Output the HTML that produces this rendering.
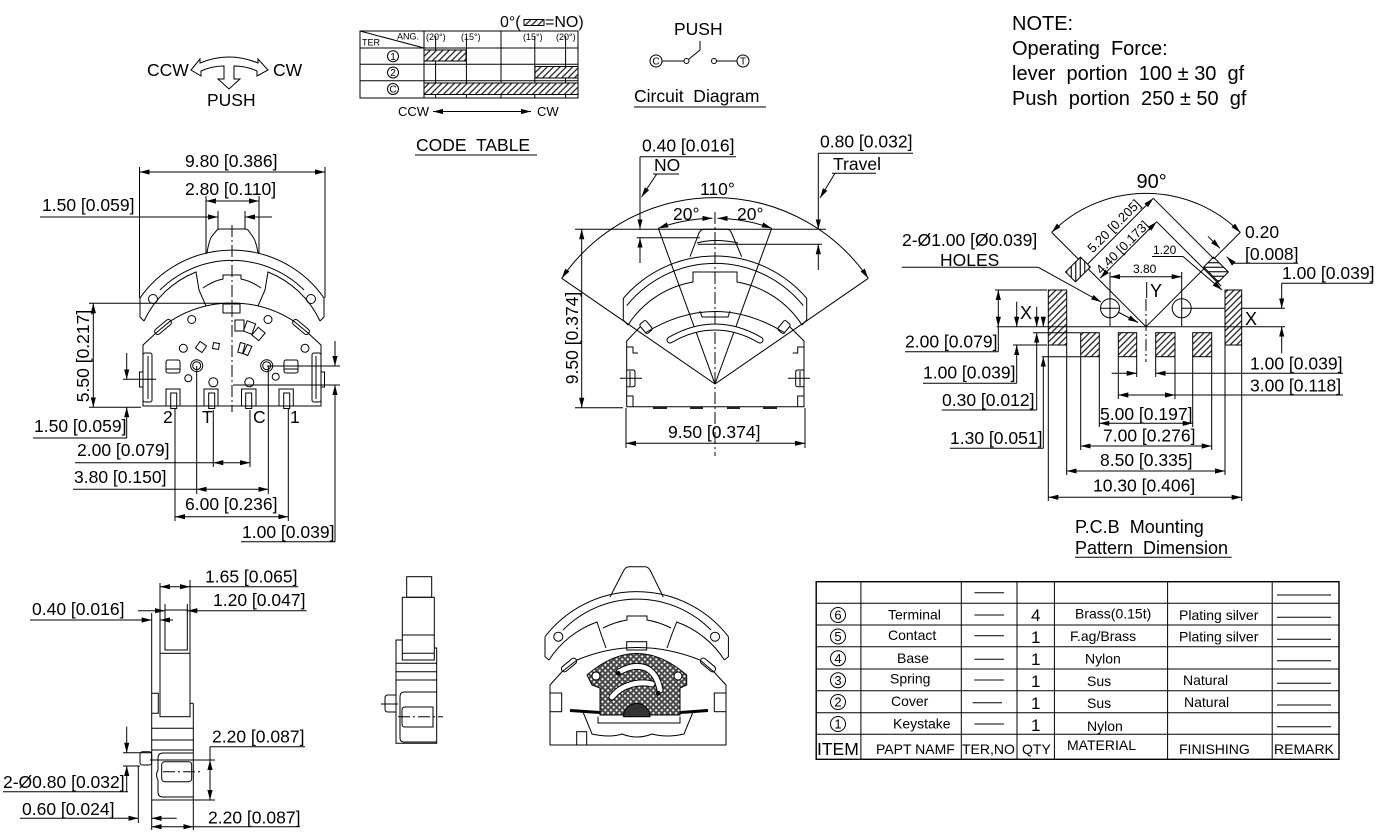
<!DOCTYPE html>
<html><head><meta charset="utf-8"><title>drawing</title>
<style>
html,body{margin:0;padding:0;background:#fff;}
svg{display:block;}
text{font-family:"Liberation Sans",Arial,sans-serif;font-size:17.5px;fill:#000;white-space:pre;}
.l line,.l path,.l rect,.l circle{stroke:#000;stroke-width:1;fill:none;}
.c{stroke-dasharray:12 3 2 3;}
.e{marker-end:url(#a);}
.b{marker-start:url(#a);marker-end:url(#a);}
.t9,.t9 text{font-size:9px;}
.t10,.t10 text{font-size:10px;}
.t12,.t12 text{font-size:12px;}
.t13,.t13 text{font-size:13px;}
.t14,.t14 text{font-size:14px;}
.t17,.t17 text{font-size:17px;}
.t18,.t18 text{font-size:18px;}
.t20,.t20 text{font-size:20px;}
</style></head><body>
<svg width="1385" height="834" viewBox="0 0 1385 834" xmlns="http://www.w3.org/2000/svg">
<defs>
<marker id="a" markerUnits="userSpaceOnUse" markerWidth="11" markerHeight="7" refX="10" refY="3.5" orient="auto-start-reverse"><path d="M0,0.9 L10,3.5 L0,6.1 Z" fill="#000"/></marker>
<pattern id="h" patternUnits="userSpaceOnUse" width="4.5" height="4.5" patternTransform="rotate(45)"><rect width="4.5" height="4.5" fill="#fff"/><line x1="2.25" y1="0" x2="2.25" y2="4.5" stroke="#000" stroke-width="1.1"/></pattern>
<pattern id="x" patternUnits="userSpaceOnUse" width="4" height="4" patternTransform="rotate(45)"><rect width="4" height="4" fill="#444"/><rect x="1.2" y="1.2" width="2" height="2" fill="#fff"/></pattern>
</defs>
<rect width="1385" height="834" fill="#fff"/>

<!-- ===== Top-left CCW/CW symbol ===== -->
<text x="147" y="76">CCW</text>
<text x="273" y="76">CW</text>
<text x="207" y="106">PUSH</text>
<g class="l"><path d="M200,63 Q229,51 258,63 L258,59 L268,70 L257,76 L257,71 Q246,66 234,66 L234,79 L240,79 L229,89 L218,79 L224,79 L224,66 Q212,66 201,71 L201,76 L191,70 L200,59 Z"/></g>

<!-- ===== Code table ===== -->
<text x="500" y="27" style="font-size:16px">0°(</text>
<rect x="524" y="19.5" width="20" height="6" style="fill:url(#h);stroke:#000;stroke-width:1"/>
<text x="545" y="27" style="font-size:16px">=NO)</text>
<g class="l">
<rect x="360" y="31" width="218" height="67"/>
<line x1="360" y1="48" x2="578" y2="48"/>
<line x1="360" y1="64.3" x2="578" y2="64.3"/>
<line x1="360" y1="80.7" x2="578" y2="80.7"/>
<line x1="424" y1="31" x2="424" y2="98"/>
<line x1="501" y1="31" x2="501" y2="98"/>
<line x1="435.6" y1="36" x2="435.6" y2="98"/>
<line x1="466.4" y1="36" x2="466.4" y2="98"/>
<line x1="534.8" y1="36" x2="534.8" y2="98"/>
<line x1="565.6" y1="36" x2="565.6" y2="98"/>
<line x1="360" y1="31" x2="424" y2="48"/>
<circle cx="393" cy="56.2" r="5.5"/>
<circle cx="393" cy="72.5" r="5.5"/>
<circle cx="393" cy="89" r="5.5"/>
<rect x="424" y="50" width="42" height="11" style="fill:url(#h)"/>
<rect x="535" y="66.5" width="43" height="11.5" style="fill:url(#h)"/>
<rect x="424" y="83" width="154" height="11.5" style="fill:url(#h)"/>
<line class="b" x1="433" y1="111.5" x2="531" y2="111.5"/>
<line x1="415" y1="155" x2="537" y2="155"/>
</g>
<text class="t9" x="362" y="45.5">TER</text>
<text class="t9" x="397" y="39.5">ANG.</text>
<text class="t9" x="426" y="40">(20°)</text>
<text class="t9" x="461" y="40">(15°)</text>
<text class="t9" x="523" y="40">(15°)</text>
<text class="t9" x="556" y="40">(20°)</text>
<text class="t10" x="390.2" y="59.8">1</text>
<text class="t10" x="390.2" y="76.1">2</text>
<text class="t10" x="389.4" y="92.6">C</text>
<text class="t13" x="398" y="116">CCW</text>
<text class="t13" x="537" y="116">CW</text>
<text x="416" y="151">CODE  TABLE</text>

<!-- ===== Circuit diagram ===== -->
<text x="674" y="35">PUSH</text>
<g class="l">
<circle cx="656" cy="61" r="6"/>
<line x1="662" y1="61" x2="684" y2="61"/>
<circle cx="686.5" cy="61" r="2.5"/>
<line x1="688.5" y1="59.5" x2="700" y2="50"/>
<line x1="700" y1="50" x2="700" y2="41"/>
<circle cx="714" cy="61" r="2.5"/>
<line x1="716.5" y1="61" x2="737" y2="61"/>
<circle cx="743" cy="61" r="6"/>
<line x1="634" y1="107" x2="766" y2="107"/>
</g>
<text class="t10" x="652.4" y="64.6">C</text>
<text class="t10" x="740" y="64.6">T</text>
<text x="634" y="102">Circuit  Diagram</text>

<!-- ===== NOTE ===== -->
<text class="t20" x="1012" y="30">NOTE:</text>
<text class="t20" x="1012" y="55">Operating  Force:</text>
<text class="t20" x="1012" y="80">lever  portion  100 ± 30  gf</text>
<text class="t20" x="1012" y="105">Push  portion  250 ± 50  gf</text>

<!-- ===== Left front view ===== -->
<g class="l">
<line class="b" x1="139.5" y1="172" x2="325" y2="172"/>
<line x1="139.5" y1="167" x2="139.5" y2="298"/>
<line x1="325" y1="167" x2="325" y2="298"/>
<line class="b" x1="206" y1="201" x2="259" y2="201"/>
<line x1="206" y1="196" x2="206" y2="254"/>
<line x1="259" y1="196" x2="259" y2="254"/>
<line class="e" x1="40" y1="217" x2="218" y2="217"/>
<line class="e" x1="272" y1="217" x2="245" y2="217"/>
<line x1="218" y1="211" x2="218" y2="229"/>
<line x1="245" y1="211" x2="245" y2="229"/>
<path d="M207,253 Q209,240 212,236 L217,230 Q218,229 220,229 H245 Q247,229 248,230 L253,237 Q256,241 258,253"/>
<path d="M140,298 A112.3,112.3 0 0 1 324,298"/>
<path d="M140,298 V317 L144,321"/>
<path d="M324,298 V317 L320,321"/>
<path d="M160,290 A102.4,102.4 0 0 1 304,290"/>
<path d="M144,321 A97,97 0 0 1 196,272 L199,290 L206,306"/>
<path d="M320,321 A97,97 0 0 0 268,272 L265,290 L258,306"/>
<path d="M203,288 Q213,281 223,279 V275 H241 V279 Q251,281 261,288"/>
<circle cx="153" cy="299" r="4.5"/>
<circle cx="311" cy="299" r="4.5"/>
<path d="M143,406 V345 L156,333 L170,321.3 A114,114 0 0 1 294,321.3 L308,333 L321,345 V406 Z"/>
<rect x="153" y="324" width="20" height="6" rx="3" transform="rotate(-40 163 327)"/>
<rect x="291" y="324" width="20" height="6" rx="3" transform="rotate(40 301 327)"/>
<rect x="223" y="304" width="17" height="9"/>
<rect x="143" y="353" width="9" height="49" rx="2"/>
<line x1="148" y1="356" x2="148" y2="399"/>
<rect x="139.5" y="372" width="3.5" height="15"/>
<rect x="312" y="353" width="9" height="49" rx="2"/>
<line x1="316" y1="356" x2="316" y2="399"/>
<rect x="321" y="372" width="3.5" height="15"/>
<rect x="166" y="389" width="14" height="17"/>
<rect x="170.7" y="393" width="6" height="15.5"/>
<rect x="204" y="389" width="14" height="17"/>
<rect x="208.7" y="393" width="6" height="15.5"/>
<rect x="241.5" y="389" width="14.5" height="17"/>
<rect x="245.7" y="393" width="6" height="15.5"/>
<rect x="279" y="389" width="14.3" height="17"/>
<rect x="283.7" y="393" width="6" height="15.5"/>
<circle cx="191.7" cy="319.5" r="4"/>
<circle cx="268" cy="319.5" r="4"/>
<circle cx="183.3" cy="348.3" r="4"/>
<circle cx="305" cy="348.3" r="4"/>
<circle cx="196.7" cy="365.7" r="6"/>
<circle cx="196.7" cy="365.7" r="4"/>
<circle cx="266.7" cy="365.7" r="6"/>
<circle cx="266.7" cy="365.7" r="4"/>
<circle cx="188.3" cy="378.3" r="3.5"/>
<circle cx="213.3" cy="382.3" r="4.5"/>
<circle cx="249.3" cy="382.3" r="4.5"/>
<circle cx="275.7" cy="376.7" r="3.5"/>
<rect x="166" y="360" width="14" height="13" rx="2"/>
<line x1="166" y1="369" x2="180" y2="369"/>
<rect x="284" y="360" width="14" height="13" rx="2"/>
<line x1="284" y1="369" x2="298" y2="369"/>
<rect x="197" y="343" width="8" height="8" transform="rotate(35 201 347)"/>
<rect x="213" y="343" width="6" height="6" transform="rotate(10 216 346)"/>
<rect x="235" y="320" width="9" height="11"/>
<rect x="245" y="322" width="9" height="11" transform="rotate(20 249.5 327.5)"/>
<rect x="254" y="329" width="9" height="10" transform="rotate(40 258.5 334)"/>
<rect x="239" y="343" width="5" height="10" transform="rotate(15 241.5 348)"/>
<rect x="245" y="345" width="5" height="10" transform="rotate(25 247.5 350)"/>
<line class="c" x1="232" y1="225" x2="232" y2="412"/>
<line class="b" x1="93.3" y1="303.3" x2="93.3" y2="407.3"/>
<line x1="89" y1="303.3" x2="232" y2="303.3"/>
<line x1="89" y1="407.3" x2="141" y2="407.3"/>
<line class="e" x1="126.7" y1="353" x2="126.7" y2="379.3"/>
<line x1="123" y1="379.3" x2="156" y2="379.3"/>
<line class="e" x1="126.7" y1="438" x2="126.7" y2="407.3"/>
<line x1="33" y1="438" x2="127" y2="438"/>
<line x1="213.3" y1="410" x2="213.3" y2="467"/>
<line x1="250" y1="410" x2="250" y2="467"/>
<line x1="75" y1="462.7" x2="213.3" y2="462.7"/>
<line class="b" x1="213.3" y1="462.7" x2="250" y2="462.7"/>
<line x1="196.7" y1="366" x2="196.7" y2="494"/>
<line x1="268.3" y1="366" x2="268.3" y2="494"/>
<line x1="73" y1="489.3" x2="196.7" y2="489.3"/>
<line class="b" x1="196.7" y1="489.3" x2="268.3" y2="489.3"/>
<line x1="175" y1="409" x2="175" y2="521"/>
<line x1="288.3" y1="409" x2="288.3" y2="521"/>
<line class="b" x1="175" y1="516.7" x2="288.3" y2="516.7"/>
<line x1="267" y1="366" x2="340" y2="366"/>
<line x1="233" y1="385" x2="340" y2="385"/>
<line class="e" x1="335" y1="341" x2="335" y2="366"/>
<line class="e" x1="335" y1="541.7" x2="335" y2="385"/>
<line x1="241" y1="541.7" x2="335" y2="541.7"/>
</g>
<text x="185" y="167">9.80 [0.386]</text>
<text x="185" y="195">2.80 [0.110]</text>
<text x="42" y="211">1.50 [0.059]</text>
<text transform="translate(89,356) rotate(-90)" text-anchor="middle">5.50 [0.217]</text>
<text x="34" y="432">1.50 [0.059]</text>
<text x="77" y="456">2.00 [0.079]</text>
<text x="74" y="483">3.80 [0.150]</text>
<text x="185" y="510">6.00 [0.236]</text>
<text x="242" y="538">1.00 [0.039]</text>
<text x="163" y="423">2</text>
<text x="202" y="423">T</text>
<text x="253" y="423">C</text>
<text x="290" y="423">1</text>

<!-- ===== Middle view with angles ===== -->
<g class="l">
<path class="b" d="M561.7,278.3 A186,186 0 0 1 868.3,278.3"/>
<line x1="715" y1="384" x2="561.7" y2="278.3"/>
<line x1="715" y1="384" x2="868.3" y2="278.3"/>
<line x1="715" y1="384" x2="658.3" y2="228.3"/>
<line x1="715" y1="384" x2="771.7" y2="228.3"/>
<path class="b" d="M658.3,228.3 A165.7,165.7 0 0 1 712.5,218.3"/>
<path class="b" d="M717.5,218.3 A165.7,165.7 0 0 1 771.7,228.3"/>
<line class="c" x1="715" y1="212" x2="715" y2="456"/>
<line class="b" x1="581.7" y1="229.3" x2="581.7" y2="407.7"/>
<line x1="575" y1="229.3" x2="826" y2="229.3"/>
<line x1="575" y1="407.7" x2="623" y2="407.7"/>
<line class="b" x1="626" y1="443.3" x2="805" y2="443.3"/>
<line x1="626" y1="408" x2="626" y2="448"/>
<line x1="805" y1="408" x2="805" y2="448"/>
<line x1="640" y1="156.7" x2="736" y2="156.7"/>
<line class="e" x1="640" y1="156.7" x2="640" y2="229.3"/>
<line class="e" x1="640" y1="263" x2="640" y2="237.7"/>
<line x1="636.7" y1="237.7" x2="700" y2="237.7"/>
<line x1="653" y1="174" x2="679" y2="174"/>
<line class="e" x1="656.7" y1="174" x2="641.5" y2="197"/>
<line x1="818.3" y1="153.3" x2="913" y2="153.3"/>
<line class="e" x1="818.3" y1="153.3" x2="818.3" y2="229.3"/>
<line class="e" x1="818.3" y1="270" x2="818.3" y2="244.3"/>
<line x1="698" y1="244.3" x2="822" y2="244.3"/>
<line x1="832" y1="173.3" x2="876" y2="173.3"/>
<line class="e" x1="835" y1="173.3" x2="820" y2="198"/>
<path d="M690,256.7 L699,233 Q701,229.3 704,229.3 H727 Q730,229.3 731.5,233 L741.7,256.7"/>
<path d="M697,243 Q715,238 738,243"/>
<path d="M623.3,298.3 A120.5,120.5 0 0 1 806.7,298.3"/>
<path d="M623.3,298.3 V320 L628,325"/>
<path d="M806.7,298.3 V320 L802,325"/>
<path d="M626.7,305.7 A113.2,113.2 0 0 1 803.3,305.7"/>
<path d="M628,325 A97,97 0 0 1 693,282 V272 H737 V282 A97,97 0 0 1 802,325"/>
<path d="M645,333 Q715,290 785,333"/>
<path d="M700,311 L702,317 H728 L730,311"/>
<rect x="642" y="321" width="8" height="12" rx="2" transform="rotate(-40 646 327)"/>
<rect x="780" y="321" width="8" height="12" rx="2" transform="rotate(40 784 327)"/>
<path d="M640,327 L626.7,341 V406.7 H804 V341 L790,327"/>
<path d="M626.7,347 H633 V353 H638"/>
<path d="M804,347 H797.7 V353 H792.7"/>
<path d="M626.7,370 H633 Q635,370 635,372 V385 Q635,386.7 633,386.7 H626.7"/>
<path d="M804,370 H797.7 Q795.7,370 795.7,372 V385 Q795.7,386.7 797.7,386.7 H804"/>
<line x1="620" y1="378.3" x2="642" y2="378.3"/>
<line x1="630" y1="371" x2="630" y2="386"/>
<line x1="788" y1="378.3" x2="810" y2="378.3"/>
<line x1="800" y1="371" x2="800" y2="386"/>
<path d="M626.7,396 H633 V406.7"/>
<path d="M804,396 H797.7 V406.7"/>
</g>
<path d="M670,340 Q715,314 760,340" stroke="#000" stroke-width="7" fill="none" stroke-linecap="round"/>
<path d="M670,340 Q715,314 760,340" stroke="#fff" stroke-width="5" fill="none" stroke-linecap="round"/>
<g fill="#222"><rect x="653" y="407" width="14" height="2"/><rect x="690" y="407" width="13" height="2"/><rect x="727" y="407" width="13" height="2"/><rect x="763" y="407" width="14" height="2"/></g>
<text x="700" y="195">110°</text>
<text x="673" y="220">20°</text>
<text x="737" y="220">20°</text>
<text transform="translate(578,338) rotate(-90)" text-anchor="middle">9.50 [0.374]</text>
<text x="668" y="438">9.50 [0.374]</text>
<text x="642" y="151.7">0.40 [0.016]</text>
<text x="654" y="171">NO</text>
<text x="820" y="147.7">0.80 [0.032]</text>
<text x="833" y="170">Travel</text>

<!-- ===== PCB pattern ===== -->
<g class="l">
<path class="b" d="M1051.7,232.4 A133.4,133.4 0 0 1 1240.3,232.4"/>
<line x1="1146" y1="326.7" x2="1051.7" y2="232.4"/>
<line x1="1146" y1="326.7" x2="1240.3" y2="232.4"/>
<line class="b" x1="1153.3" y1="198.3" x2="1076.7" y2="275"/>
<line x1="1153.3" y1="198.3" x2="1224" y2="269"/>
<line class="b" x1="1156.7" y1="221.7" x2="1100" y2="278.3"/>
<line x1="1156.7" y1="221.7" x2="1221" y2="286"/>
<line x1="1152" y1="256.5" x2="1183" y2="256.5"/>
<line class="e" x1="1183" y1="256.5" x2="1222" y2="290"/>
<line x1="1233.3" y1="263.3" x2="1298" y2="263.3"/>
<line class="e" x1="1208" y1="236.3" x2="1220" y2="248.3"/>
<line class="e" x1="1233.3" y1="263.3" x2="1226.7" y2="256.7"/>
<line class="b" x1="1110" y1="276.7" x2="1181.7" y2="276.7"/>
<line x1="1110" y1="272" x2="1110" y2="326"/>
<line x1="1181.7" y1="272" x2="1181.7" y2="326"/>
<circle cx="1110" cy="308.3" r="9.5"/>
<circle cx="1181.7" cy="308.3" r="9.5"/>
<line x1="1100" y1="308.3" x2="1120" y2="308.3"/>
<line x1="1181.7" y1="308.3" x2="1285" y2="308.3"/>
<line x1="996.7" y1="326.7" x2="1285" y2="326.7"/>
<line x1="1146.7" y1="282" x2="1146.7" y2="298"/>
<line class="c" x1="1146" y1="299" x2="1146" y2="362"/>
<rect x="1048.3" y="290" width="18.4" height="55" style="fill:url(#h)"/>
<rect x="1225" y="290" width="16.7" height="55" style="fill:url(#h)"/>
<line x1="1048.3" y1="326.7" x2="1066.7" y2="326.7"/>
<line x1="1225" y1="326.7" x2="1241.7" y2="326.7"/>
<rect x="1080.7" y="332.7" width="18.6" height="24" style="fill:url(#h)"/>
<rect x="1118.3" y="332.7" width="18.4" height="24" style="fill:url(#h)"/>
<rect x="1155.7" y="332.7" width="19.3" height="24" style="fill:url(#h)"/>
<rect x="1192.7" y="332.7" width="19" height="24" style="fill:url(#h)"/>
<rect x="-10.5" y="-7" width="21" height="14" transform="translate(1078,269.5) rotate(-45)" style="fill:url(#h)"/>
<rect x="-10.5" y="-7" width="21" height="14" transform="translate(1216,269.5) rotate(45)" style="fill:url(#h)"/>
<line x1="901.7" y1="267.3" x2="1038.3" y2="267.3"/>
<line class="e" x1="1038.3" y1="267.3" x2="1101" y2="302"/>
<line class="e" x1="1118" y1="312" x2="1138" y2="322.5"/>
<line x1="995" y1="290" x2="1047" y2="290"/>
<line class="b" x1="998.3" y1="290" x2="998.3" y2="326.7"/>
<line x1="998.3" y1="326.7" x2="998.3" y2="351.7"/>
<line x1="905" y1="351.7" x2="998.3" y2="351.7"/>
<line class="e" x1="1016.7" y1="301.7" x2="1016.7" y2="326.7"/>
<line class="e" x1="1016.7" y1="383.3" x2="1016.7" y2="345"/>
<line x1="1013" y1="345" x2="1047" y2="345"/>
<line x1="923" y1="383.3" x2="1016.7" y2="383.3"/>
<line class="e" x1="1036.7" y1="306.7" x2="1036.7" y2="326.7"/>
<line class="e" x1="1036.7" y1="410" x2="1036.7" y2="332.7"/>
<line x1="1033" y1="332.7" x2="1080" y2="332.7"/>
<line x1="941.7" y1="410" x2="1036.7" y2="410"/>
<line class="e" x1="1043.3" y1="316.7" x2="1043.3" y2="326.7"/>
<line class="e" x1="1043.3" y1="448.3" x2="1043.3" y2="356.7"/>
<line x1="1041.7" y1="356.7" x2="1080" y2="356.7"/>
<line x1="950" y1="448.3" x2="1043.3" y2="448.3"/>
<line class="e" x1="1281.7" y1="283.3" x2="1281.7" y2="308.3"/>
<line class="e" x1="1281.7" y1="353.3" x2="1281.7" y2="326.7"/>
<line x1="1281.7" y1="283.3" x2="1373" y2="283.3"/>
<line class="e" x1="1111.7" y1="373.3" x2="1136.7" y2="373.3"/>
<line class="e" x1="1343" y1="373.3" x2="1155.7" y2="373.3"/>
<line x1="1136.7" y1="357" x2="1136.7" y2="377"/>
<line x1="1155.7" y1="357" x2="1155.7" y2="377"/>
<line class="b" x1="1118.3" y1="395" x2="1175" y2="395"/>
<line x1="1175" y1="395" x2="1343" y2="395"/>
<line x1="1118.3" y1="357" x2="1118.3" y2="399"/>
<line x1="1175" y1="357" x2="1175" y2="399"/>
<line class="b" x1="1099.3" y1="423.3" x2="1192.7" y2="423.3"/>
<line x1="1099.3" y1="357" x2="1099.3" y2="427"/>
<line x1="1192.7" y1="357" x2="1192.7" y2="427"/>
<line class="b" x1="1080.7" y1="446" x2="1211.7" y2="446"/>
<line x1="1080.7" y1="357" x2="1080.7" y2="450"/>
<line x1="1211.7" y1="357" x2="1211.7" y2="450"/>
<line class="b" x1="1066.7" y1="471" x2="1225" y2="471"/>
<line x1="1066.7" y1="345" x2="1066.7" y2="475"/>
<line x1="1225" y1="345" x2="1225" y2="475"/>
<line class="b" x1="1048.3" y1="497.3" x2="1241.7" y2="497.3"/>
<line x1="1048.3" y1="345" x2="1048.3" y2="501"/>
<line x1="1241.7" y1="345" x2="1241.7" y2="501"/>
<line x1="1075" y1="557.3" x2="1231.7" y2="557.3"/>
</g>
<text class="t20" x="1136.5" y="188">90°</text>
<text transform="translate(1117,229.2) rotate(-45)" text-anchor="middle" class="t13">5.20 [0.205]</text>
<text transform="translate(1125.5,250.5) rotate(-45)" text-anchor="middle" class="t13">4.40 [0.173]</text>
<text class="t12" x="1153" y="254">1.20</text>
<text class="t12" x="1133" y="273">3.80</text>
<text class="t18" x="1150" y="297">Y</text>
<text class="t18" x="1020" y="319">X</text>
<text class="t18" x="1245" y="325">X</text>
<text x="1245" y="238">0.20</text>
<text x="1245" y="260">[0.008]</text>
<text x="902" y="246">2-Ø1.00 [Ø0.039]</text>
<text x="940" y="266">HOLES</text>
<text x="1282" y="279">1.00 [0.039]</text>
<text x="905" y="347.5">2.00 [0.079]</text>
<text x="923" y="378.3">1.00 [0.039]</text>
<text x="942" y="406">0.30 [0.012]</text>
<text x="950" y="444">1.30 [0.051]</text>
<text x="1250" y="369.3">1.00 [0.039]</text>
<text x="1250" y="391.5">3.00 [0.118]</text>
<text x="1100" y="420">5.00 [0.197]</text>
<text x="1103" y="441.7">7.00 [0.276]</text>
<text x="1100" y="466">8.50 [0.335]</text>
<text x="1093" y="491.7">10.30 [0.406]</text>
<text class="t18" x="1075" y="533">P.C.B  Mounting</text>
<text class="t18" x="1075" y="554">Pattern  Dimension</text>

<!-- ===== Bottom-left side view ===== -->
<g class="l">
<rect x="165" y="610" width="22.3" height="40"/>
<line x1="160" y1="583" x2="160" y2="653.3"/>
<line x1="190" y1="580" x2="190" y2="653.3"/>
<rect x="160" y="653.3" width="30" height="63.4"/>
<line x1="151.7" y1="613" x2="151.7" y2="800"/>
<path d="M151.7,693.3 H158.3 V713.3 H151.7"/>
<line x1="193.3" y1="703.3" x2="193.3" y2="800"/>
<line x1="190" y1="703.3" x2="193.3" y2="703.3"/>
<line x1="151.7" y1="728.3" x2="193.3" y2="728.3"/>
<line x1="151.7" y1="740" x2="193.3" y2="740"/>
<line x1="151.7" y1="750" x2="193.3" y2="750"/>
<line x1="151.7" y1="800" x2="193.3" y2="800"/>
<path d="M193.3,753 H163 Q158,753 158,758 V770 Q155,775 158,780 V792 Q158,797 163,797 H193.3"/>
<rect x="161.7" y="761.7" width="30" height="20" rx="3"/>
<line class="c" x1="163" y1="771.7" x2="200" y2="771.7"/>
<rect x="140" y="751.7" width="11.7" height="13.3" rx="2.5"/>
<line class="b" x1="160" y1="586.7" x2="190" y2="586.7"/>
<line x1="190" y1="586.7" x2="298.3" y2="586.7"/>
<line class="e" x1="138" y1="610.7" x2="165" y2="610.7"/>
<line class="e" x1="306.7" y1="610.7" x2="187.3" y2="610.7"/>
<line x1="165" y1="604" x2="165" y2="612"/>
<line x1="187.3" y1="604" x2="187.3" y2="612"/>
<line class="e" x1="30" y1="620" x2="151.7" y2="620"/>
<line class="e" x1="173" y1="620" x2="160" y2="620"/>
<line x1="150" y1="760" x2="215" y2="760"/>
<line x1="193" y1="800" x2="215" y2="800"/>
<line class="b" x1="210" y1="760" x2="210" y2="800"/>
<line x1="210" y1="746.7" x2="210" y2="760"/>
<line x1="210" y1="746.7" x2="305" y2="746.7"/>
<line x1="123" y1="752.7" x2="151.7" y2="752.7"/>
<line x1="123" y1="766" x2="140" y2="766"/>
<line class="e" x1="126.7" y1="726.7" x2="126.7" y2="752.7"/>
<line class="e" x1="126.7" y1="791.7" x2="126.7" y2="766"/>
<line x1="3" y1="791.7" x2="128" y2="791.7"/>
<line x1="138.3" y1="766" x2="138.3" y2="823"/>
<line x1="151.7" y1="800" x2="151.7" y2="830"/>
<line class="e" x1="20" y1="818.3" x2="138.3" y2="818.3"/>
<line class="e" x1="176.7" y1="818.3" x2="151.7" y2="818.3"/>
<line x1="193.3" y1="800" x2="193.3" y2="830"/>
<line class="b" x1="151.7" y1="826.7" x2="193.3" y2="826.7"/>
<line x1="193.3" y1="826.7" x2="300" y2="826.7"/>
</g>
<text x="205" y="582.7">1.65 [0.065]</text>
<text x="213" y="606">1.20 [0.047]</text>
<text x="32" y="615">0.40 [0.016]</text>
<text x="212" y="742.7">2.20 [0.087]</text>
<text x="3" y="788">2-Ø0.80 [0.032]</text>
<text x="22" y="815">0.60 [0.024]</text>
<text x="208" y="823.5">2.20 [0.087]</text>

<!-- ===== Bottom middle: small side view ===== -->
<g class="l">
<rect x="406.7" y="576.7" width="25" height="20.6"/>
<rect x="402.3" y="597.3" width="32" height="62.7"/>
<line x1="402.3" y1="635" x2="434.3" y2="635"/>
<line x1="402.3" y1="653.3" x2="434.3" y2="653.3"/>
<path d="M402.3,640 H396 V743.3 H436.7 V648 H434.3"/>
<line x1="396" y1="663.3" x2="436.7" y2="663.3"/>
<line x1="396" y1="671.7" x2="436.7" y2="671.7"/>
<line x1="396" y1="680" x2="436.7" y2="680"/>
<path d="M436.7,692 H404 Q400,692 400,697 V738 Q400,742 404,742 H436.7"/>
<path d="M396,695 H388 Q385,695 385,698 V709 Q385,712 388,712 H396"/>
<line x1="381" y1="704" x2="398" y2="704"/>
<path d="M405,707 H433 V727 H405 Q402,727 402,724 V710 Q402,707 405,707 Z"/>
<line class="c" x1="398" y1="716.7" x2="443" y2="716.7"/>
</g>

<!-- ===== Bottom middle: front view with mesh ===== -->
<g class="l">
<path d="M610,597 L624,570 Q626,566.7 629,566.7 H645 Q648,566.7 650,570 L663.3,597"/>
<path d="M545,636.7 A115.9,115.9 0 0 1 728.4,636.7"/>
<path d="M545,636.7 V656.7 L549,660"/>
<path d="M728.4,636.7 V656.7 L724.4,660"/>
<path d="M563,630 A104,104 0 0 1 711,630"/>
<path d="M549,660 A95,95 0 0 1 597,622 L601,634 L606,648"/>
<path d="M724.4,660 A95,95 0 0 0 676.7,622 L672,634 L667,648"/>
<path d="M603,628 Q615,622 627,620 V616 H647 V620 Q659,622 671,628"/>
<circle cx="558.3" cy="636.7" r="4.5"/>
<circle cx="715" cy="636.7" r="4.5"/>
<path d="M550,745 V685 L561.7,672 L577,660 Q637,635 700,660 L714,672 L726,685 V745 Z"/>
<rect x="560" y="662" width="18" height="6" rx="3" transform="rotate(-40 569 665)"/>
<rect x="699" y="662" width="18" height="6" rx="3" transform="rotate(40 708 665)"/>
<rect x="626.7" y="641.7" width="20" height="8.3"/>
<rect x="550" y="693" width="11.7" height="18.7"/>
<rect x="714.3" y="693" width="11.7" height="18.7"/>
<rect x="576.7" y="731.7" width="10" height="13.3"/>
<path d="M583,712 L592,734 Q610,738 622,734 Q637,740 652,734 Q667,738 684,734 L693,712"/>
<path d="M598,716.7 V723 H680 V716.7"/>
</g>
<path d="M587,675 Q636.7,632 686.7,675 V685 L680,688 V715 H600 V688 L592,685 Z" fill="url(#x)" stroke="#000" stroke-width="1"/>
<path d="M619,672 C637,662 655,664 660,690" stroke="#000" stroke-width="7" fill="none" stroke-linecap="round"/>
<path d="M619,672 C637,662 655,664 660,690" stroke="#fff" stroke-width="5" fill="none" stroke-linecap="round"/>
<path d="M612,697 C622,684 640,681 652,684" stroke="#000" stroke-width="7" fill="none" stroke-linecap="round"/>
<path d="M612,697 C622,684 640,681 652,684" stroke="#fff" stroke-width="5" fill="none" stroke-linecap="round"/>
<circle cx="618.3" cy="673.3" r="2.3" fill="#000"/>
<circle cx="658.3" cy="693.3" r="2.3" fill="#000"/>
<circle cx="596" cy="676" r="4" fill="#fff" stroke="#000"/>
<circle cx="678" cy="676" r="4" fill="#fff" stroke="#000"/>
<line x1="570" y1="710.5" x2="600" y2="712.5" stroke="#000" stroke-width="3"/>
<line x1="680" y1="712.5" x2="708" y2="710.5" stroke="#000" stroke-width="3"/>
<path d="M623.4,716.7 A13.3,13.3 0 0 1 650,716.7 Z" fill="#333" stroke="#000"/>

<!-- ===== Parts table ===== -->
<g class="l" style="stroke-width:1.3">
<rect x="816.2" y="581.7" width="522.8" height="177.6" style="stroke-width:1.4"/>
<line x1="816.2" y1="603.3" x2="1339" y2="603.3"/>
<line x1="816.2" y1="625" x2="1339" y2="625"/>
<line x1="816.2" y1="646.7" x2="1339" y2="646.7"/>
<line x1="816.2" y1="669" x2="1339" y2="669"/>
<line x1="816.2" y1="690.7" x2="1339" y2="690.7"/>
<line x1="816.2" y1="712.7" x2="1339" y2="712.7"/>
<line x1="816.2" y1="734.3" x2="1339" y2="734.3"/>
<line x1="860.9" y1="581.7" x2="860.9" y2="759.3"/>
<line x1="961.3" y1="581.7" x2="961.3" y2="759.3"/>
<line x1="1017" y1="581.7" x2="1017" y2="759.3"/>
<line x1="1054.4" y1="581.7" x2="1054.4" y2="759.3"/>
<line x1="1167.6" y1="581.7" x2="1167.6" y2="759.3"/>
<line x1="1272.2" y1="581.7" x2="1272.2" y2="759.3"/>
<circle cx="838" cy="615" r="7.5"/>
<circle cx="838" cy="636.5" r="7.5"/>
<circle cx="838" cy="658.3" r="7.5"/>
<circle cx="838" cy="680.3" r="7.5"/>
<circle cx="838" cy="702" r="7.5"/>
<circle cx="838" cy="724" r="7.5"/>
<line x1="974.4" y1="592.7" x2="1003.9" y2="592.7"/>
<line x1="974.4" y1="615" x2="1003.9" y2="615"/>
<line x1="974.4" y1="635.7" x2="1003.9" y2="635.7"/>
<line x1="974.4" y1="659.3" x2="1003.9" y2="659.3"/>
<line x1="974.4" y1="680" x2="1003.9" y2="680"/>
<line x1="972.7" y1="702.7" x2="1002" y2="702.7"/>
<line x1="974.4" y1="724" x2="1003.9" y2="724"/>
<line x1="1277" y1="595" x2="1331" y2="595"/>
<line x1="1277" y1="617.3" x2="1331" y2="617.3"/>
<line x1="1277" y1="639.3" x2="1331" y2="639.3"/>
<line x1="1277" y1="660.7" x2="1331" y2="660.7"/>
<line x1="1277" y1="683.3" x2="1331" y2="683.3"/>
<line x1="1277" y1="705" x2="1331" y2="705"/>
<line x1="1277" y1="726.7" x2="1331" y2="726.7"/>
</g>
<g class="t13" text-anchor="middle">
<text x="838" y="619.6">6</text>
<text x="838" y="641.1">5</text>
<text x="838" y="662.9">4</text>
<text x="838" y="684.9">3</text>
<text x="838" y="706.6">2</text>
<text x="838" y="728.6">1</text>
</g>
<g class="t14">
<text x="888" y="619.5">Terminal</text>
<text x="1075" y="618.5">Brass(0.15t)</text>
<text x="1179" y="620">Plating silver</text>
<text x="888" y="640">Contact</text>
<text x="1070" y="641">F.ag/Brass</text>
<text x="1179" y="641.5">Plating silver</text>
<text x="897" y="663">Base</text>
<text x="1085" y="663.5">Nylon</text>
<text x="890" y="683.5">Spring</text>
<text x="1087" y="686">Sus</text>
<text x="1183" y="685">Natural</text>
<text x="891" y="706">Cover</text>
<text x="1087" y="708">Sus</text>
<text x="1184" y="707">Natural</text>
<text x="893" y="728.5">Keystake</text>
<text x="1087" y="731">Nylon</text>
<text x="876" y="754">PAPT NAMF</text>
<text x="962" y="754">TER,NO</text>
<text x="1022" y="754">QTY</text>
<text x="1067" y="750">MATERIAL</text>
<text x="1179" y="754">FINISHING</text>
<text x="1274" y="754">REMARK</text>
</g>
<g class="t17">
<text x="1031" y="621">4</text>
<text x="1031" y="643">1</text>
<text x="1031" y="665">1</text>
<text x="1031" y="687">1</text>
<text x="1031" y="709">1</text>
<text x="1031" y="731">1</text>
</g>
<text x="817" y="755">ITEM</text>
</svg>
</body></html>
